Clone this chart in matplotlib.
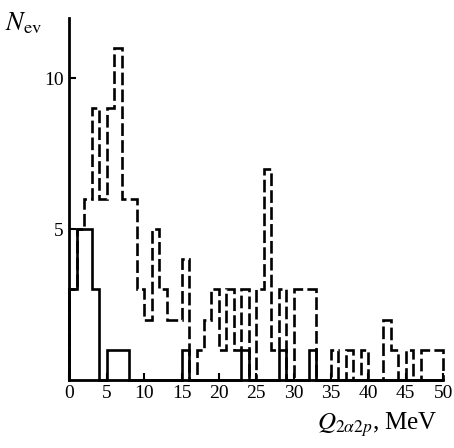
import matplotlib
matplotlib.use("Agg")
import matplotlib.pyplot as plt
import numpy as np

# counts per 1 MeV bin, 0..50 MeV
bin_edges = list(range(0, 51))
n_all = [3, 5, 6, 9, 6, 9, 11, 6, 6, 3,
         2, 5, 3, 2, 2, 4, 0, 1, 2, 3,
         1, 3, 1, 3, 0, 3, 7, 1, 3, 0,
         3, 3, 3, 0, 0, 1, 0, 1, 0, 1,
         0, 0, 2, 1, 0, 1, 0, 1, 1, 1]
n_sel = [3, 5, 5, 3, 0, 1, 1, 1, 0, 0,
         0, 0, 0, 0, 0, 1, 0, 0, 0, 0,
         0, 0, 0, 1, 0, 0, 0, 0, 1, 0,
         0, 0, 1, 0, 0, 0, 0, 0, 0, 0,
         0, 0, 0, 0, 0, 0, 0, 0, 0, 0]
x_ticks = [0, 5, 10, 15, 20, 25, 30, 35, 40, 45, 50]
y_ticks = [5, 10]

plt.rcParams["font.family"] = ["Liberation Serif", "DejaVu Serif"]
plt.rcParams["mathtext.fontset"] = "stix"

fig = plt.figure(figsize=(4.54, 4.48), dpi=100)
ax = fig.add_axes([0.153, 0.152, 0.823, 0.808])

ax.stairs(n_all, bin_edges, baseline=0, color="black", lw=1.9,
          linestyle=(0, (4.8, 1.6)), clip_on=False)
ax.stairs(n_sel, bin_edges, baseline=0, color="black", lw=1.9, clip_on=False)

ax.set_xlim(0, 50)
ax.set_ylim(0, 12)
ax.set_xticks(x_ticks)
ax.set_yticks(y_ticks)
ax.tick_params(direction="in", length=5, width=1.5, labelsize=14, pad=4)
for side in ("top", "right"):
    ax.spines[side].set_visible(False)
for side in ("left", "bottom"):
    ax.spines[side].set_linewidth(2)

fig.text(0.012, 0.948, r"$N_{\mathrm{ev}}$", fontsize=19, ha="left", va="center")
fig.text(0.965, 0.052, r"$Q_{2\alpha 2p}$, MeV", fontsize=18, ha="right", va="center")

fig.savefig("out.png", dpi=100)
